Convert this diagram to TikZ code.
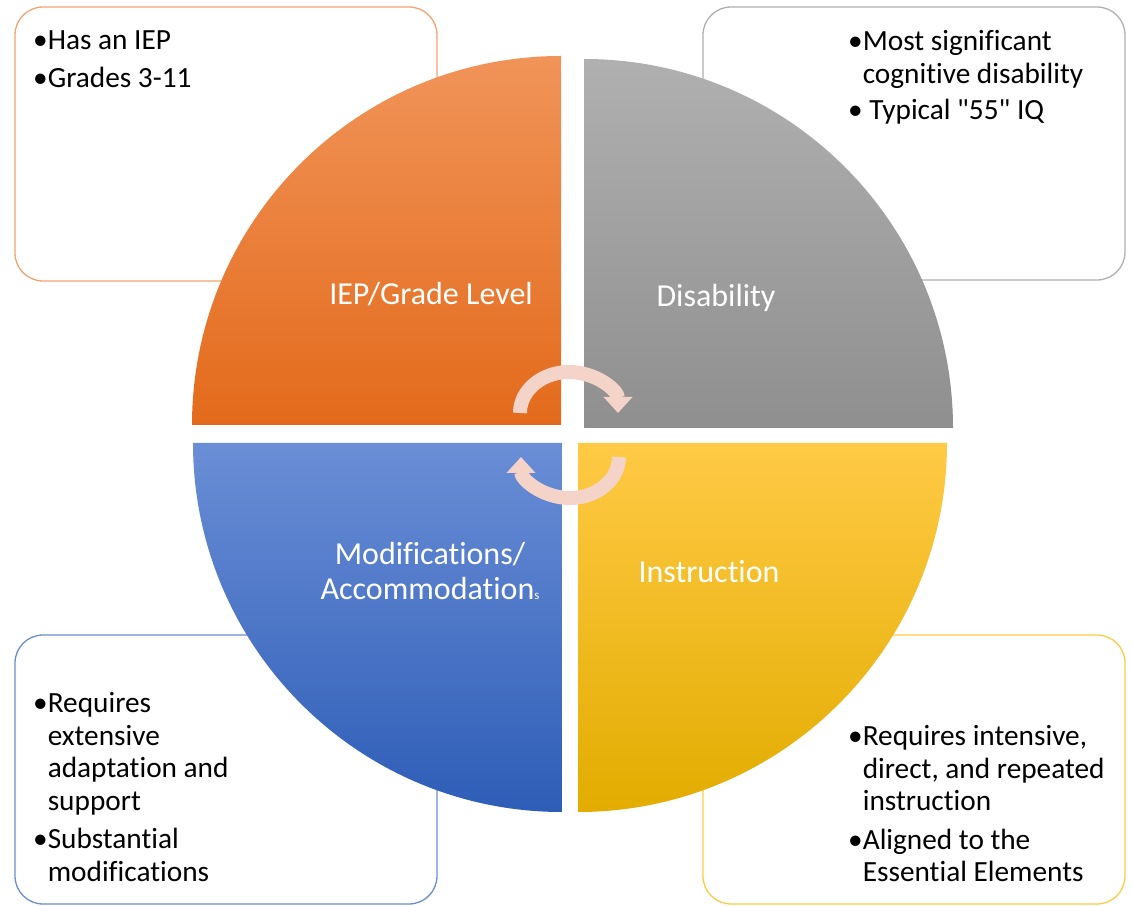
\documentclass[tikz,border=0pt]{standalone}
\usepackage{xcolor}
\usepackage{fontspec}
\setmainfont{Carlito}[Ligatures={TeXOff,NoCommon}]
\usepackage{tikz}
\usetikzlibrary{arrows.meta}

\begin{document}
\begin{tikzpicture}[x=1pt,y=1pt]
  % Colors
  \definecolor{IEPtop}{HTML}{F19459}
  \definecolor{IEPbot}{HTML}{E36A1B}
  \definecolor{DIStop}{HTML}{B0B0B0}
  \definecolor{DISbot}{HTML}{8F8F8F}
  \definecolor{MODtop}{HTML}{6A8ED6}
  \definecolor{MODbot}{HTML}{2E5DB7}
  \definecolor{INStop}{HTML}{FFCA45}
  \definecolor{INSbot}{HTML}{E2AC00}
  \definecolor{turn}{HTML}{F4D3C8}
  \colorlet{IEPline}{IEPtop!85!white}
  \colorlet{DISline}{DIStop}
  \colorlet{MODline}{MODtop}
  \colorlet{INSline}{INStop}
  % Styles
  \tikzstyle{info box}=[rounded corners=28pt,line width=1.3pt,fill=white]
  \tikzstyle{info text}=[anchor=base west,inner sep=0pt,font=\fontsize{29.3}{32.5}\selectfont]
  \tikzstyle{quarter label}=[white,inner sep=0pt,align=center,font=\fontsize{32}{35}\selectfont]
  \tikzstyle{turn arrow}=[line width=14pt,draw=turn,-{Triangle[width=28pt,length=16pt]}]

  % The graphic
  \fill[white] (0,0) rectangle (1132,905);

  % boxes behind the circle
  \draw[info box,draw=IEPline] (15,624) rectangle (437,898);
  \draw[info box,draw=DISline] (703,625) rectangle (1125,898);
  \draw[info box,draw=MODline] (15,1) rectangle (437,270);
  \draw[info box,draw=INSline] (703,1) rectangle (1125,270);

  % the four quarters
  \path[top color=IEPtop,bottom color=IEPbot] (561,480) -- (192,480) arc(180:90:369) -- cycle;
  \path[top color=DIStop,bottom color=DISbot] (584,477) -- (584,846) arc(90:0:369) -- cycle;
  \path[top color=MODtop,bottom color=MODbot] (562,462) -- (193,462) arc(180:270:369) -- cycle;
  \path[top color=INStop,bottom color=INSbot] (578,462) -- (947,462) arc(0:-90:369) -- cycle;

  % turning arrows
  \coordinate (up start) at (520,492);
  \coordinate (low start) at (619,448);
  \draw[turn arrow] (up start) arc[start angle=180,end angle=0,x radius=49,y radius=41];
  \draw[turn arrow] (low start) arc[start angle=0,end angle=-180,x radius=49,y radius=41];

  % labels
  \node[quarter label,anchor=base] (iep label) at (431,600) {IEP/Grade Level};
  \node[quarter label,anchor=base] (dis label) at (716,598) {Disability};
  \node[quarter label,anchor=base] (mod label) at (430,305) {Modifications/\\Accommodation{\fontsize{13}{13}\selectfont s}};
  \node[quarter label,anchor=base] (ins label) at (709,322) {Instruction};

  % box texts
  \node[info text] (iep text) at (33,855)
    {\begin{tabular}[t]{@{}l@{}l@{}}\textbullet&Has an IEP\\[5pt]
     \textbullet&Grades 3-11\end{tabular}};
  \node[info text] (dis text) at (848,854)
    {\begin{tabular}[t]{@{}l@{}l@{}}\textbullet&Most significant\\
     &cognitive disability\\[4pt]
     \textbullet&\ Typical "55" IQ\end{tabular}};
  \node[info text] (mod text) at (33,192)
    {\begin{tabular}[t]{@{}l@{}l@{}}\textbullet&Requires\\
     &extensive\\
     &adaptation and\\
     &support\\[6pt]
     \textbullet&Substantial\\
     &modifications\end{tabular}};
  \node[info text] (ins text) at (848,159)
    {\begin{tabular}[t]{@{}l@{}l@{}}\textbullet&Requires intensive,\\
     &direct, and repeated\\
     &instruction\\[6pt]
     \textbullet&Aligned to the\\
     &Essential Elements\end{tabular}};
\end{tikzpicture}
\end{document}
